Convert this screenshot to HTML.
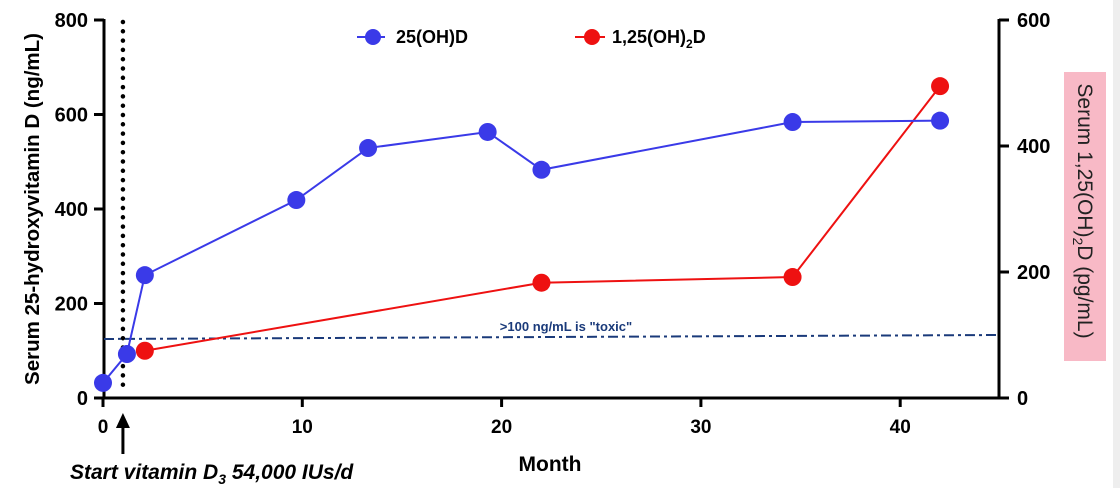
<!DOCTYPE html>
<html><head><meta charset="utf-8"><style>
body{margin:0;background:#fff;width:1120px;height:488px;overflow:hidden;font-family:"Liberation Sans",sans-serif}
svg text{font-family:"Liberation Sans",sans-serif;font-weight:bold}
</style></head><body>
<svg id="c" width="1120" height="488">
<rect x="1113" y="0" width="7" height="488" fill="#eeeeee"/>
<g id="g"></g>
</svg>
<script>
const months25=[0,1.2,2.1,9.7,13.3,19.3,22.0,34.6,42.0];
const values25=[32,93,260,419,529,563,483,584,587];
const months125=[2.1,22.0,34.6,42.0];
const values125=[75,183,192,495];
const xTicks=[0,10,20,30,40];
const yLeftTicks=[0,200,400,600,800];
const yRightTicks=[0,200,400,600];
const toxicLevel=[127];
const startMonth=[1];

const NS='http://www.w3.org/2000/svg';
const g=document.getElementById('g');
const X=m=>103+m*19.93;
const YL=v=>398-v*0.4725;
const YR=v=>398-v*0.63;
function el(t,a,txt){const e=document.createElementNS(NS,t);for(const k in a)e.setAttribute(k,a[k]);if(txt!==undefined)e.textContent=txt;g.appendChild(e);return e;}

let e=el('line',{x1:103,y1:398,x2:1000,y2:398,stroke:'#000','stroke-width':3});


e=el('line',{x1:104,y1:19,x2:104,y2:399,stroke:'#000','stroke-width':3});


e=el('line',{x1:999,y1:19,x2:999,y2:399,stroke:'#000','stroke-width':3});



xTicks.forEach(t=>{
 el('line',{x1:X(t),y1:398,x2:X(t),y2:407,stroke:'#000','stroke-width':3});
 e=el('text',{x:X(t),y:433,'font-size':19,'text-anchor':'middle'},t);
 
 
});
yLeftTicks.forEach(t=>{
 el('line',{x1:94,y1:YL(t),x2:104,y2:YL(t),stroke:'#000','stroke-width':3});
 e=el('text',{x:88,y:YL(t)+7,'font-size':20,'text-anchor':'end'},t);
 
 
});
yRightTicks.forEach(t=>{
 el('line',{x1:999,y1:YR(t),x2:1009,y2:YR(t),stroke:'#000','stroke-width':3});
 e=el('text',{x:1017,y:YR(t)+7,'font-size':20,'text-anchor':'start'},t);
 
 
});

e=el('text',{x:0,y:0,'font-size':20.5,'text-anchor':'middle',transform:'translate(39,209) rotate(-90)'},'Serum 25-hydroxyvitamin  D (ng/mL)');


e=el('rect',{x:1064,y:72,width:42,height:289,fill:'#f8b9c6'});


e=el('text',{x:0,y:0,'font-size':21,fill:'#222','text-anchor':'middle',transform:'translate(1078,211) rotate(90)'});
e.innerHTML='Serum 1,25(OH)<tspan font-size="14" dy="5">2</tspan><tspan dy="-5">D (pg/mL)</tspan>';
e.setAttribute('style','font-weight:normal');



e=el('text',{x:550,y:471,'font-size':21,'text-anchor':'middle'},'Month');


e=el('text',{x:70,y:479,'font-size':21,'font-style':'italic'});
e.innerHTML='Start vitamin D<tspan font-size="14" dy="5">3</tspan><tspan dy="-5"> 54,000 IUs/d</tspan>';



e=el('line',{x1:X(startMonth[0]),y1:22,x2:X(startMonth[0]),y2:392,stroke:'#000','stroke-width':4.5,'stroke-dasharray':'0 9.3','stroke-linecap':'round'});


e=el('line',{x1:X(startMonth[0]),y1:454,x2:X(startMonth[0]),y2:425,stroke:'#000','stroke-width':3});


el('polygon',{points:`${X(startMonth[0])-7},428 ${X(startMonth[0])+7},428 ${X(startMonth[0])},413`,fill:'#000'});

e=el('line',{x1:104,y1:YL(toxicLevel[0])+1,x2:999,y2:YL(toxicLevel[0])-3,stroke:'#1a3a7a','stroke-width':2,'stroke-dasharray':'10 4 3 4'});


e=el('text',{x:566,y:331,'font-size':13,fill:'#1a3a7a','text-anchor':'middle'},'>100 ng/mL is "toxic"');



function series(ms,vs,Y,col,name){
 const p=el('polyline',{points:ms.map((m,i)=>X(m)+','+Y(vs[i])).join(' '),fill:'none',stroke:col,'stroke-width':2});
 
 
 ms.forEach((m,i)=>{
  const c=el('circle',{cx:X(m),cy:Y(vs[i]),r:9,fill:col});
  
  
 });
}
series(months125,values125,YR,'#ee1111','calcitriol');
series(months25,values25,YL,'#3a3ae8','calcidiol');

e=el('line',{x1:357,y1:37,x2:385,y2:37,stroke:'#3a3ae8','stroke-width':2});


el('circle',{cx:373,cy:37,r:8,fill:'#3a3ae8'});
e=el('text',{x:396,y:43,'font-size':18},'25(OH)D');


e=el('line',{x1:575,y1:37,x2:605,y2:37,stroke:'#ee1111','stroke-width':2});


el('circle',{cx:592,cy:37,r:8,fill:'#ee1111'});
e=el('text',{x:612,y:43,'font-size':18});
e.innerHTML='1,25(OH)<tspan font-size="12" dy="5">2</tspan><tspan dy="-5">D</tspan>';


</script>
</body></html>
